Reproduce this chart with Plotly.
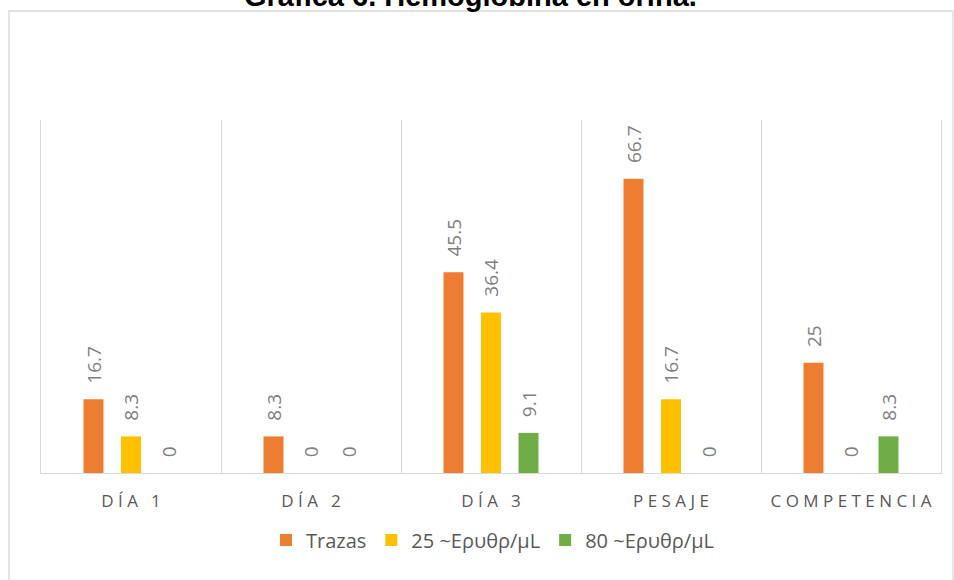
import plotly.graph_objects as go

# Hemoglobina en orina por momento de la competencia (%)
categorias = ["DÍA 1", "DÍA 2", "DÍA 3", "PESAJE", "COMPETENCIA"]
trazas = [16.7, 8.3, 45.5, 66.7, 25]
eritro_25 = [8.3, 0, 36.4, 16.7, 0]
eritro_80 = [0, 0, 9.1, 0, 8.3]

series = [
    ("Trazas", trazas, "#ED7D31"),
    ("25 ~Ερυθρ/μL", eritro_25, "#FFC000"),
    ("80 ~Ερυθρ/μL", eritro_80, "#70AD47"),
]

FUENTE = "'Open Sans', Lato, sans-serif"


def espaciado(texto):
    # letras separadas, como en las etiquetas del eje
    palabras = texto.split(" ")
    return " \u2002".join(" ".join(p) for p in palabras)


etiquetas = [espaciado(c) for c in categorias]

fig = go.Figure()
for nombre, valores, color in series:
    fig.add_trace(go.Bar(
        name=nombre,
        x=categorias,
        y=valores,
        marker=dict(color=color, line=dict(width=0)),
        # separación extra entre la barra y su etiqueta girada
        text=[f"\u2002\u2009{v:g}" for v in valores],
        textposition="outside",
        textangle=-90,
        constraintext="none",
        cliponaxis=False,
        textfont=dict(family=FUENTE, size=19, color="#808080"),
    ))

fig.update_layout(
    width=954,
    height=580,
    margin=dict(l=41, r=13, t=120, b=107, autoexpand=False),
    paper_bgcolor="white",
    plot_bgcolor="white",
    barmode="group",
    bargap=0.375,
    bargroupgap=0.467,
    showlegend=True,
    legend=dict(
        orientation="h",
        x=0.25, xanchor="left",
        y=-0.19, yanchor="middle",
        font=dict(family=FUENTE, size=20, color="#595959"),
        traceorder="normal",
        bgcolor="rgba(0,0,0,0)",
    ),
    annotations=[dict(
        text="<b>Gráfica 6. Hemoglobina en orina.</b>",
        xref="paper", yref="paper",
        x=0.477, y=(473 - 14) / 353,
        xanchor="center", yanchor="bottom",
        showarrow=False,
        font=dict(family="Arial, 'Liberation Sans', sans-serif", size=29, color="black"),
    )],
    shapes=[dict(
        type="rect", xref="paper", yref="paper",
        x0=(9 - 41) / 900, x1=(953 - 41) / 900,
        y0=(473 - 620) / 353, y1=(473 - 11) / 353,
        line=dict(color="#D9D9D9", width=1.3),
        fillcolor="rgba(0,0,0,0)",
        layer="below",
    )],
)

fig.update_xaxes(
    type="category",
    tickmode="array",
    tickvals=categorias,
    ticktext=etiquetas,
    tickson="boundaries",
    ticks="",
    showgrid=True,
    gridcolor="#D9D9D9",
    gridwidth=1.3,
    showline=True,
    linecolor="#D9D9D9",
    linewidth=1.3,
    range=[-0.5, 4.5],
    automargin=False,
    tickfont=dict(family=FUENTE, size=17, color="#595959"),
    ticklabelstandoff=12,
)

fig.update_yaxes(
    range=[0, 80],
    showgrid=False,
    zeroline=False,
    showticklabels=False,
    ticks="",
    showline=True,
    mirror=True,
    linecolor="#D9D9D9",
    linewidth=1.3,
    automargin=False,
)

fig.write_html("out.html")
